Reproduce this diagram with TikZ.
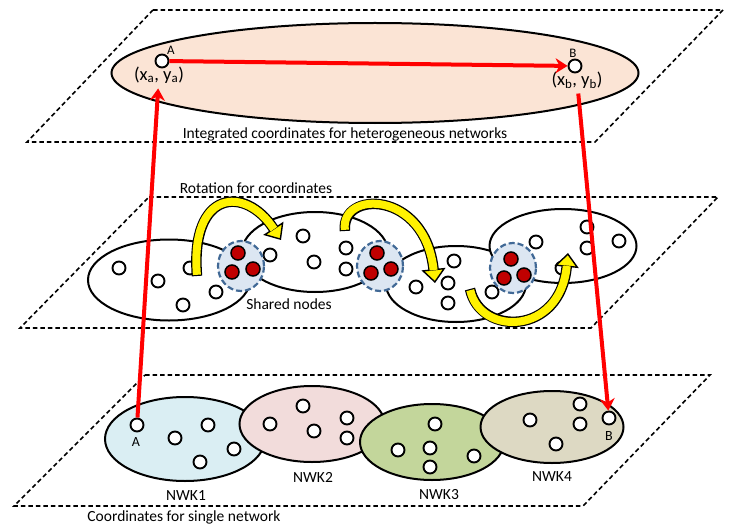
\documentclass[tikz,border=0pt]{standalone}
\usepackage{fontspec}
\setmainfont{Carlito}
\usetikzlibrary{shapes.geometric,arrows.meta}
\definecolor{peach}{RGB}{251,228,213}
\definecolor{nwkblue}{RGB}{218,238,243}
\definecolor{nwkpink}{RGB}{242,220,219}
\definecolor{nwkgreen}{RGB}{195,214,155}
\definecolor{nwktan}{RGB}{221,217,195}
\definecolor{shfill}{RGB}{220,230,242}
\definecolor{shline}{RGB}{65,105,150}
\definecolor{dotred}{RGB}{192,0,0}
\definecolor{rotdark}{RGB}{205,205,0}

\begin{document}
\begin{tikzpicture}[x=1pt,y=-1pt,
  layer/.style={line width=1.6pt,dash pattern=on 4.5pt off 3pt},
  net/.style={ellipse,draw,line width=2pt,inner sep=0pt},
  pt/.style={circle,draw,fill=white,line width=1.9pt,minimum size=13pt,inner sep=0pt},
  red dot/.style={circle,draw,fill=dotred,line width=1.5pt,minimum size=14pt,inner sep=0pt},
  shared/.style={ellipse,draw=shline,fill=shfill,line width=2.2pt,dash pattern=on 6pt off 3pt,minimum width=46pt,minimum height=50pt},
  lbl/.style={font=\fontsize{15.5}{17}\selectfont,inner sep=0pt},
  letter/.style={font=\fontsize{13}{14}\selectfont,inner sep=0pt},
  coord/.style={font=\fontsize{18.5}{20}\selectfont,inner sep=5pt},
  link/.style={red,line width=4pt,-{Stealth[length=12pt,width=15pt]}},
  rot/.style={line width=10.5pt,line cap=butt,-{Triangle[length=14pt,width=24pt,line width=1.4pt,fill=yellow]},
    postaction={draw=yellow,line width=8pt,-,shorten >=13pt,shorten <=1.2pt}}]
  \useasboundingbox (0,0) rectangle (730,524);

  % integrated layer
  \draw[layer] (153,10) -- (723,10) -- (595,142) -- (27,142) -- cycle;
  \node[net,fill=peach,minimum width=527pt,minimum height=100pt] (glob) at (375,73) {};
  \node[pt] (ga) at (162,61) {};
  \node[pt] (gb) at (575,66) {};
  \node[letter] at (171,50) {A};
  \node[letter] at (573,53) {B};
  \node[coord] (xa) at (159,75) {(x\textsubscript{a}, y\textsubscript{a})};
  \node[coord] (xb) at (577,80) {(x\textsubscript{b}, y\textsubscript{b})};
  \node[lbl] at (345,134) {Integrated coordinates for heterogeneous networks};

  % rotation layer
  \draw[layer] (149,197) -- (718,197) -- (591,328) -- (20,328) -- cycle;
  \node[lbl] at (256,188) {Rotation for coordinates};
  \node[net,fill=white,minimum width=162pt,minimum height=81pt] (ra) at (169,280) {};
  \node[net,fill=white,minimum width=146pt,minimum height=80pt] (rb) at (315,252) {};
  \node[net,fill=white,minimum width=140pt,minimum height=76pt] (rc) at (456,284) {};
  \node[net,fill=white,minimum width=147pt,minimum height=74pt] (rd) at (563,246) {};
  \node[pt] (ra1) at (119,268) {};
  \node[pt] (ra2) at (158,281) {};
  \node[pt] (ra3) at (190,268) {};
  \node[pt] (ra4) at (183,305) {};
  \node[pt] (ra5) at (216,292) {};
  \node[pt] (rb1) at (270,255) {};
  \node[pt] (rb2) at (303,236) {};
  \node[pt] (rb3) at (314,262) {};
  \node[pt] (rb4) at (346,248) {};
  \node[pt] (rb5) at (346,269) {};
  \node[pt] (rc1) at (454,261) {};
  \node[pt] (rc2) at (416,287) {};
  \node[pt] (rc3) at (448,283) {};
  \node[pt] (rc4) at (448,303) {};
  \node[pt] (rc5) at (492,292) {};
  \node[pt] (rd1) at (587,227) {};
  \node[pt] (rd2) at (536,242) {};
  \node[pt] (rd3) at (587,248) {};
  \node[pt] (rd4) at (619,241) {};
  \node[pt] (rd5) at (562,268) {};
  \node[shared] (sa) at (241,266) {};
  \node[shared] (sb) at (380,266) {};
  \node[shared] (sc) at (513,268) {};
  \node[red dot] at (238,253) {};
  \node[red dot] at (232,272) {};
  \node[red dot] at (253,269) {};
  \node[red dot] at (377,253) {};
  \node[red dot] at (371,273) {};
  \node[red dot] at (391,269) {};
  \node[red dot] at (511,259) {};
  \node[red dot] at (504,278) {};
  \node[red dot] at (524,275) {};
  \node[lbl] at (289,304) {Shared nodes};
  \draw[rot] (197,276) .. controls (190,190) and (245,185) .. (281,240);
  \draw[rot] (345,231) .. controls (340,190) and (425,190) .. (435,283);
  \draw[rot] (470,289) .. controls (480,336) and (560,336) .. (568,253);

  % single network layer
  \draw[layer] (145,375) -- (710,375) -- (583,506) -- (14,506) -- cycle;
  \node[net,fill=nwkblue,minimum width=160pt,minimum height=84pt] (na) at (185,439) {};
  \node[net,fill=nwkpink,minimum width=145pt,minimum height=76pt] (nb) at (312,424) {};
  \node[net,fill=nwkgreen,minimum width=144pt,minimum height=76pt] (nc) at (432,442) {};
  \node[net,fill=nwktan,minimum width=143pt,minimum height=72pt] (nd) at (552,427) {};
  \node[pt] (sa1) at (137,425) {};
  \node[pt] (na2) at (175,438) {};
  \node[pt] (na3) at (208,425) {};
  \node[pt] (na4) at (234,449) {};
  \node[pt] (na5) at (200,462) {};
  \node[pt] (nb1) at (270,424) {};
  \node[pt] (nb2) at (303,406) {};
  \node[pt] (nb3) at (314,431) {};
  \node[pt] (nb4) at (347,418) {};
  \node[pt] (nb5) at (347,438) {};
  \node[pt] (nc1) at (435,424) {};
  \node[pt] (nc2) at (398,450) {};
  \node[pt] (nc3) at (430,448) {};
  \node[pt] (nc4) at (430,467) {};
  \node[pt] (nc5) at (474,456) {};
  \node[pt] (nd1) at (530,420) {};
  \node[pt] (nd2) at (580,404) {};
  \node[pt] (nd3) at (580,424) {};
  \node[pt] (sb1) at (609,418) {};
  \node[pt] (nd5) at (556,444) {};
  \node[letter,font=\fontsize{14}{15}\selectfont] at (136,442) {A};
  \node[letter,font=\fontsize{14}{15}\selectfont] at (609,436) {B};
  \node[lbl] at (186,496) {NWK1};
  \node[lbl] at (313,477) {NWK2};
  \node[lbl] at (439,495) {NWK3};
  \node[lbl] at (552,477) {NWK4};
  \node[lbl] at (184,517) {Coordinates for single network};

  % links between layers
  \draw[link] (ga) -- (gb);
  \draw[link] (sa1) -- (xa);
  \draw[link] (xb) -- (sb1);
\end{tikzpicture}
\end{document}
